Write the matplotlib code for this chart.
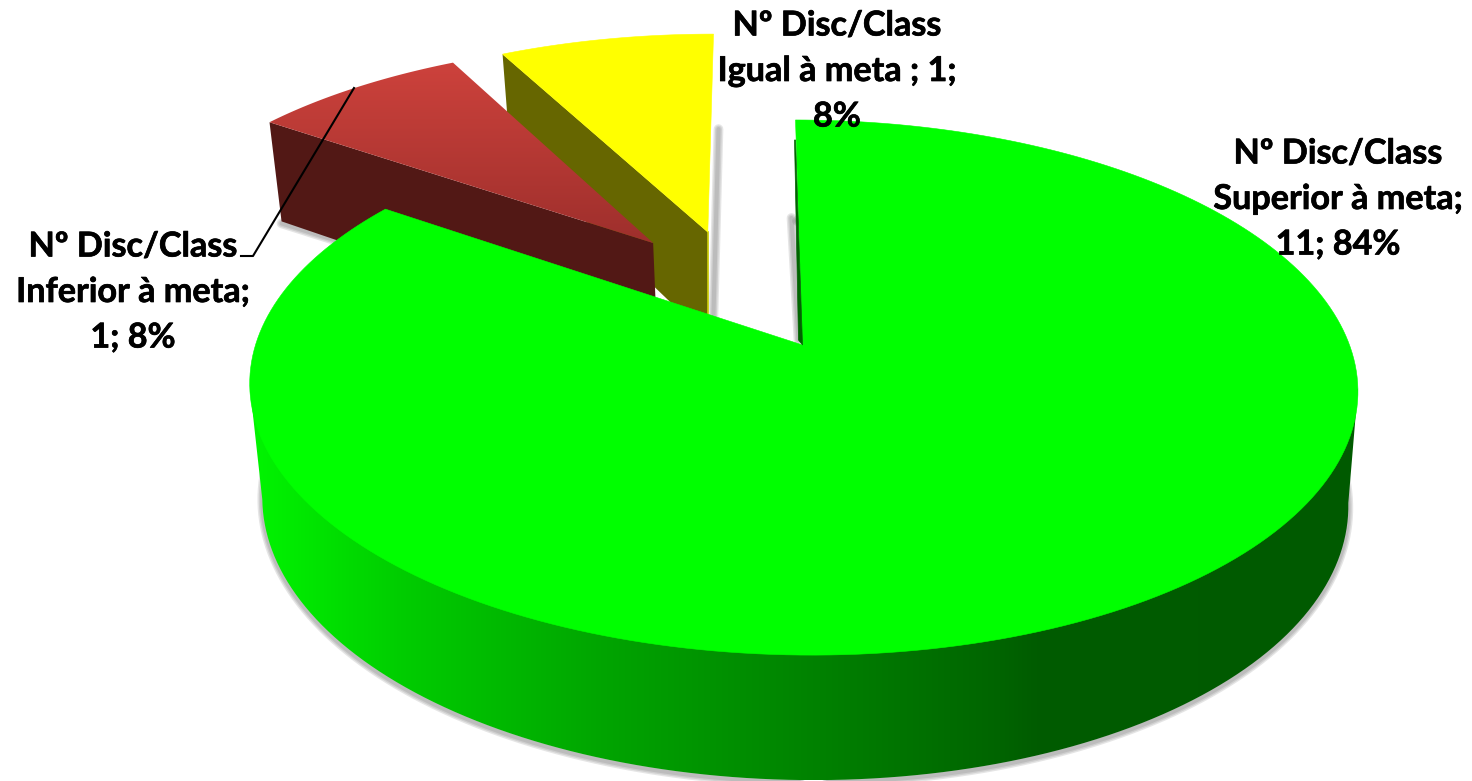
import numpy as np
import matplotlib
matplotlib.use("Agg")
import matplotlib.pyplot as plt
import matplotlib.patheffects as pe

# chart data
categories = ["Superior à meta", "Inferior à meta", "Igual à meta"]
values = [11, 1, 1]
labels = ["Nº Disc/Class\nSuperior à meta;\n11; 84%",
          "Nº Disc/Class\nInferior à meta;\n1; 8%",
          "Nº Disc/Class\nIgual à meta ; 1;\n8%"]

# explode offsets on the unit disc, per slice
offsets = [(0.0, 0.0), (-0.285, 0.417), (-0.179, 0.465)]
radii = [1.0, 1.006, 1.006]
top_colors = ["#00ff00", "#c8403b", "#ffff00"]
wall_colors = ["#006400", "#521815", "#666600"]
label_pos = [(1338, 199), (133, 292), (837, 71)]

# perspective of the pie, in pixels
CX, CY = 802.5, 345
A, B, K = 547, 260.8, 0.159
SHEAR = 0.031
BOT_CX = 804
BOT_SCALE = 0.98


def project(u, v):
    w = 1 + K * v
    y_rel = B * v / w
    return CX + A * u / w - SHEAR * y_rel, CY - y_rel


def project_bottom(u, v):
    w = 1 + K * v
    y_rel = B * v / w
    x = BOT_CX + BOT_SCALE * A * u / w - SHEAR * y_rel
    return x, CY - y_rel + (112 - 13 * v)


def soft_line(ax, xs, ys, dx=0, dy=0, zorder=1):
    for lw in [7, 5, 3]:
        ax.plot(np.asarray(xs) + dx, np.asarray(ys) + dy, color="#555555", alpha=0.15,
                lw=lw, solid_capstyle="round", zorder=zorder)


def gradient_fill(ax, px, py, img, zorder):
    # image clipped to the polygon, the limits have to be put back after imshow
    poly = ax.fill(px, py, color="none", lw=0, zorder=zorder)[0]
    im = ax.imshow(img, extent=[px.min(), px.max(), py.max(), py.min()], aspect="auto", zorder=zorder)
    im.set_clip_path(poly)
    ax.set_xlim(0, 1472)
    ax.set_ylim(781, 0)


fig = plt.figure(figsize=(14.72, 7.81), dpi=100)
ax = fig.add_axes([0, 0, 1, 1])
ax.set_xlim(0, 1472)
ax.set_ylim(781, 0)
ax.axis("off")

# slices run clockwise from 12 o'clock
edges = np.concatenate([[0], np.cumsum(values)]) / sum(values) * 2 * np.pi
z_order = {2: 2, 1: 4, 0: 6}

for i in [2, 1, 0]:
    z = z_order[i]
    ox, oy = offsets[i]
    t = np.linspace(edges[i], edges[i + 1], 240)
    u = ox + radii[i] * np.sin(t)
    v = oy + radii[i] * np.cos(t)
    xt, yt = project(u, v)
    xb, yb = project_bottom(u, v)
    ax0, ay0 = project(ox, oy)
    bx0, by0 = project_bottom(ox, oy)

    if i == 0:
        # outer wall, shading runs left to right across the picture
        soft_line(ax, xb, yb, dy=2, zorder=z - 1)
        # silhouette: widest point of the top rim down to the widest of the bottom rim, round the front
        tr, tl = np.argmax(xt), np.argmin(xt)
        br, bl = np.argmax(xb), np.argmin(xb)
        wx = np.concatenate([[xt[tr]], xb[br:bl + 1], [xt[tl]]])
        wy = np.concatenate([[yt[tr]], yb[br:bl + 1], [yt[tl]]])
        grid = np.linspace(wx.min(), wx.max(), 512)
        g = np.interp(grid, [250, 300, 400, 600, 800, 1000, 1035, 1360],
                      [245, 232, 205, 165, 132, 100, 92, 90]) / 255
        img = np.zeros((1, 512, 3))
        img[0, :, 1] = g
        gradient_fill(ax, wx, wy, img, z)
        # thin wall at 12 o'clock, it leans left of the top face
        soft_line(ax, [xt[0] - 4, ax0 - 4], [yt[0] + 98, ay0 - 5], zorder=z - 1)
        ax.fill([xt[0], ax0, ax0 - 4, xt[0] - 1], [yt[0] + 20, ay0, ay0 - 5, yt[0] + 20],
                color=wall_colors[0], lw=0.5, zorder=z + 0.5)
    elif i == 1:
        soft_line(ax, [xb[0], xb[0] + 60], [yb[0], yb[0] + 19], dy=2, zorder=z - 1)
        ax.fill([ax0, xt[0], xb[0], bx0], [ay0, yt[0], yb[0], by0], color=wall_colors[1], lw=0, zorder=z)
    else:
        soft_line(ax, [xt[-1] + 3, ax0 + 3], [yt[-1] + 95, by0], dx=2, zorder=z - 1)
        ax.fill([ax0, xt[0], xb[0], ax0, ax0], [ay0, yt[0], yb[0], by0, by0], color=wall_colors[2], lw=0, zorder=z + 0.1)
        ax.plot([ax0, ax0], [ay0, by0], color="#c8c800", lw=1.2, zorder=z + 0.15)

    top_z = z + 0.2
    px = np.concatenate([[ax0], xt])
    py = np.concatenate([[ay0], yt])
    if i == 1:
        # red face has a soft top to bottom gradient
        grad = np.linspace(0, 1, 256).reshape(-1, 1, 1)
        c0, c1 = np.array([205, 66, 60]) / 255, np.array([158, 47, 44]) / 255
        gradient_fill(ax, px, py, c0 + (c1 - c0) * grad, top_z)
    else:
        ax.fill(px, py, color=top_colors[i], lw=0.4, zorder=top_z)

# leader line of the red slice
ax.plot([354, 253, 241], [88, 256, 256], color="black", lw=1.5, zorder=10)

for lab, (lx, ly) in zip(labels, label_pos):
    ax.text(lx, ly, lab, ha="center", va="center", family="Lato", weight="bold",
            fontsize=24.6, linespacing=1.52, color="black", zorder=11,
            path_effects=[pe.withStroke(linewidth=0.5, foreground="black")])

fig.savefig("out.png", dpi=100)
